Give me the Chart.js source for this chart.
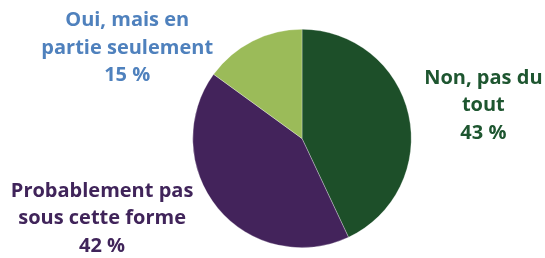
<!DOCTYPE html>
<html><head><meta charset="utf-8">
<script src="https://cdn.jsdelivr.net/npm/chart.js@4"></script>
<style>html,body{margin:0;padding:0;background:#fff;}#wrap{width:545px;height:258px;position:relative;}</style>
</head><body><div id="wrap"><canvas id="c" width="545" height="258"></canvas></div>
<script>
const categories = ["Non, pas du tout", "Probablement pas sous cette forme", "Oui, mais en partie seulement"];
const values = [43, 42, 15];
const labelLines = [["Non, pas du", "tout"], ["Probablement pas", "sous cette forme"], ["Oui, mais en", "partie seulement"]];
const sliceColors = ["#1d4f29", "#43235b", "#9bbb59"];
const textColors = ["#1e5630", "#40245a", "#4f81bd"];

const labelPlugin = {
  id: 'outLabels',
  afterDraw(chart, args, opts) {
    const ctx = chart.ctx;
    const meta = chart.getDatasetMeta(0);
    const arc = meta.data[0];
    const cx = arc.x, cy = arc.y, r = arc.outerRadius;
    ctx.save();
    ctx.font = opts.font;
    ctx.textAlign = 'center';
    ctx.textBaseline = 'middle';
    meta.data.forEach((a, i) => {
      const off = opts.offsets[i];
      const x = cx + off[0] * r, y0 = cy + off[1] * r;
      const lines = labelLines[i].concat([values[i] + " %"]);
      ctx.fillStyle = textColors[i];
      lines.forEach((ln, k) => ctx.fillText(ln, x, y0 + k * opts.lineHeight));
    });
    ctx.restore();
  }
};

new Chart(document.getElementById('c'), {
  type: 'pie',
  data: { labels: categories, datasets: [{ data: values, backgroundColor: sliceColors, borderColor: 'rgba(255,255,255,0.6)', borderWidth: 0.5 }] },
  options: {
    responsive: false, animation: false, events: [],
    layout: { padding: { left: 59, right: 0, top: 29, bottom: 10 } },
    plugins: {
      legend: { display: false }, tooltip: { enabled: false },
      outLabels: {
        font: "bold 20px 'Open Sans'",
        lineHeight: 27.5,
        offsets: [[1.66, -0.555], [-1.83, 0.48], [-1.6, -1.08]]
      }
    }
  },
  plugins: [labelPlugin]
});
</script></body></html>
